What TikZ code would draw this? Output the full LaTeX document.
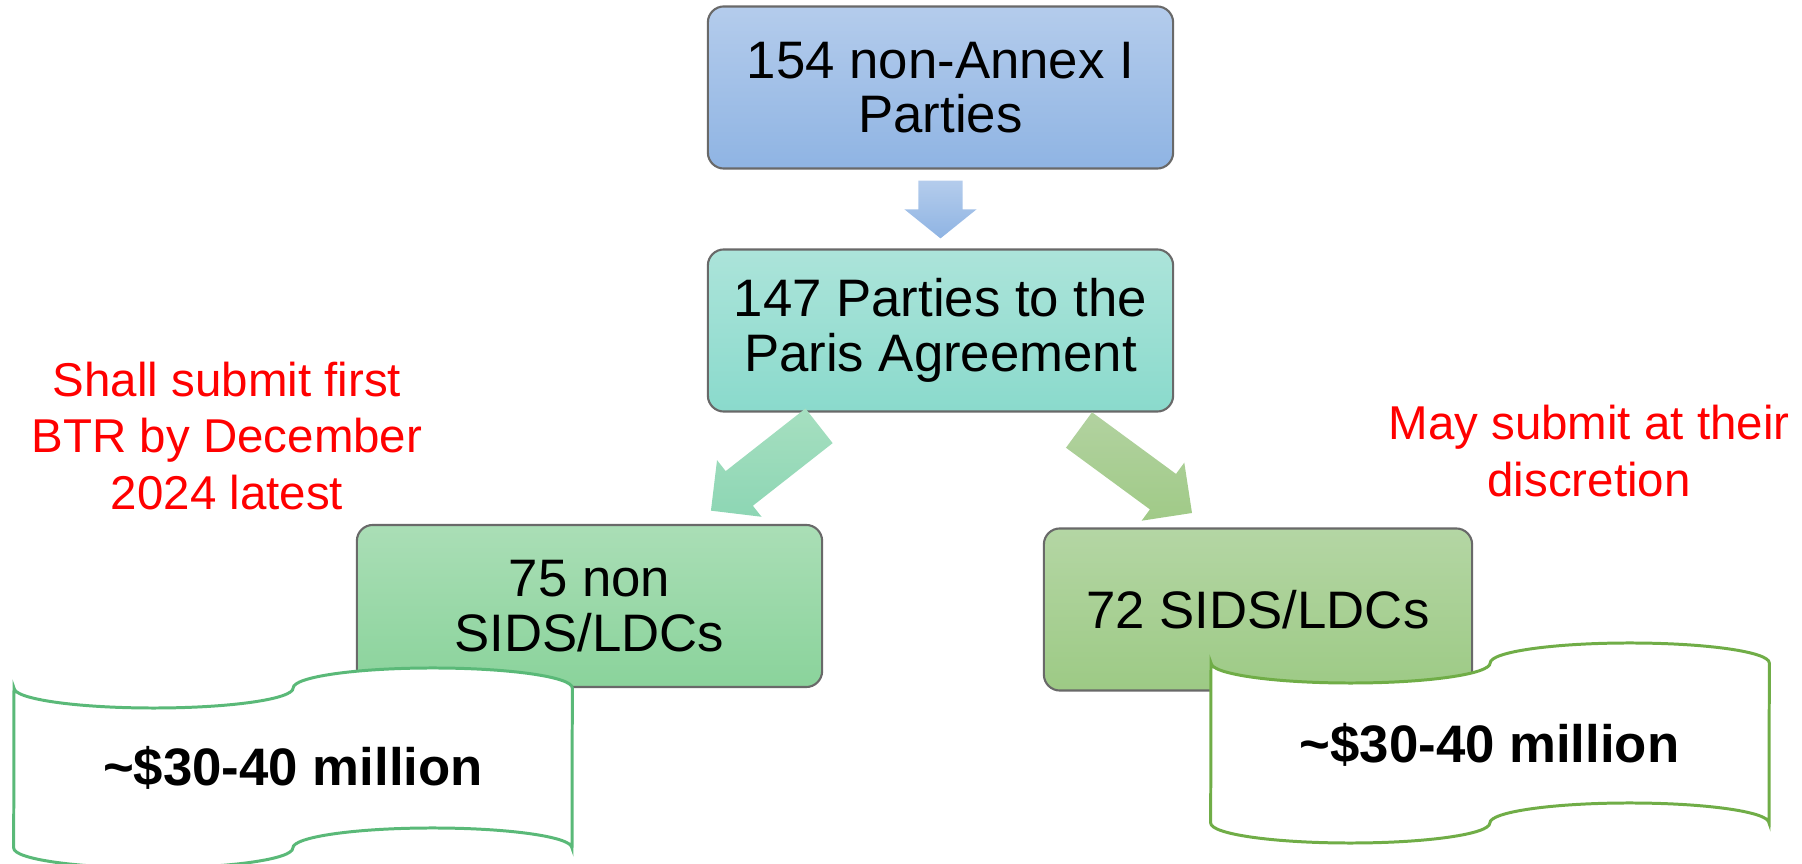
\documentclass[tikz,border=0pt]{standalone}
\usepackage{fontspec}
\setmainfont{Liberation Sans}
\usepackage{tikz}
\usetikzlibrary{calc}
\definecolor{annexT}{RGB}{180,204,236}
\definecolor{annexB}{RGB}{143,180,227}
\definecolor{parisT}{RGB}{172,228,218}
\definecolor{parisB}{RGB}{138,218,204}
\definecolor{nonT}{RGB}{170,222,182}
\definecolor{nonB}{RGB}{138,211,155}
\definecolor{sidsT}{RGB}{180,214,164}
\definecolor{sidsB}{RGB}{157,202,133}
\definecolor{boxline}{RGB}{105,105,105}
\definecolor{tapeL}{RGB}{90,185,120}
\definecolor{tapeR}{RGB}{112,173,71}
\tikzset{
    partybox/.style={rectangle, rounded corners=0.16cm, draw=boxline, line width=0.6pt,
        align=center, inner sep=0pt, minimum height=1.62cm,
        font=\fontsize{15}{15.5}\selectfont},
    redtext/.style={text=red, align=center, font=\fontsize{13.5}{16.1}\selectfont},
    money/.style={font=\fontsize{15}{15.5}\selectfont\bfseries},
    tape/.style={fill=white, line width=0.85pt},
}
% block arrow: start, tip, head length, shading
\newcommand{\fatarrow}[4]{%
    \coordinate (h) at ($(#2)!#3!(#1)$);
    \shade[#4] ($(#1)!0.22cm!90:(#2)$) -- ($(h)!0.22cm!90:(#2)$) -- ($(h)!0.36cm!90:(#2)$)
        -- (#2) -- ($(h)!0.36cm!-90:(#2)$) -- ($(h)!0.22cm!-90:(#2)$)
        -- ($(#1)!0.22cm!-90:(#2)$) -- cycle;
}
% punched tape: top left corner, colour
\newcommand{\tapebox}[3]{%
    \draw[tape, draw=#3, shift={(#1,#2)}] (0,20)
        arc[start angle=180, end angle=360, x radius=1.395cm, y radius=0.2cm]
        arc[start angle=180, end angle=0, x radius=1.395cm, y radius=0.2cm] -- (558,180)
        arc[start angle=0, end angle=180, x radius=1.395cm, y radius=0.2cm]
        arc[start angle=0, end angle=-180, x radius=1.395cm, y radius=0.2cm] -- cycle;
}
\begin{document}
\begin{tikzpicture}[x=0.01cm, y=-0.01cm]
\useasboundingbox (0,0) rectangle (1802,864);

\node[partybox, minimum width=4.65cm, top color=annexT, bottom color=annexB] (annex) at (940.5,87.5) {154 non-Annex I\\Parties};
\node[partybox, minimum width=4.65cm, top color=parisT, bottom color=parisB] (paris) at (940.5,330.5) {147 Parties to the\\Paris Agreement};
\node[partybox, minimum width=4.65cm, top color=nonT, bottom color=nonB] (nonsids) at (589.5,606) {75 non\\SIDS/LDCs};
\node[partybox, minimum width=4.28cm, top color=sidsT, bottom color=sidsB] (sids) at (1258,609.5) {72 SIDS/LDCs};

\coordinate (d0) at ([yshift=-0.11cm]annex.south);
\coordinate (d1) at ([yshift=0.10cm]paris.north);
\coordinate (l0) at ($(paris)!0.346!(nonsids)$);
\coordinate (l1) at ($(paris)!0.654!(nonsids)$);
\coordinate (r0) at (1079,430);
\coordinate (r1) at (1192,513);
\fatarrow{d0}{d1}{0.29cm}{top color=annexT, bottom color=annexB}
\fatarrow{l0}{l1}{0.36cm}{top color={rgb,255:red,166;green,223;blue,192}, bottom color={rgb,255:red,141;green,214;blue,180}}
\fatarrow{r0}{r1}{0.36cm}{top color={rgb,255:red,178;green,210;blue,160}, bottom color={rgb,255:red,160;green,202;blue,135}}

\node[redtext] (shall) at (227,436) {Shall submit first\\BTR by December\\2024 latest};
\node[redtext] (may) at (1589,451) {May submit at their\\discretion};

\tapebox{14}{668}{tapeL}
\tapebox{1211}{643}{tapeR}
\node[money] (fundl) at (293,768) {\textasciitilde\$30-40 million};
\node[money] (fundr) at (1489.5,745) {\textasciitilde\$30-40 million};
\end{tikzpicture}
\end{document}
